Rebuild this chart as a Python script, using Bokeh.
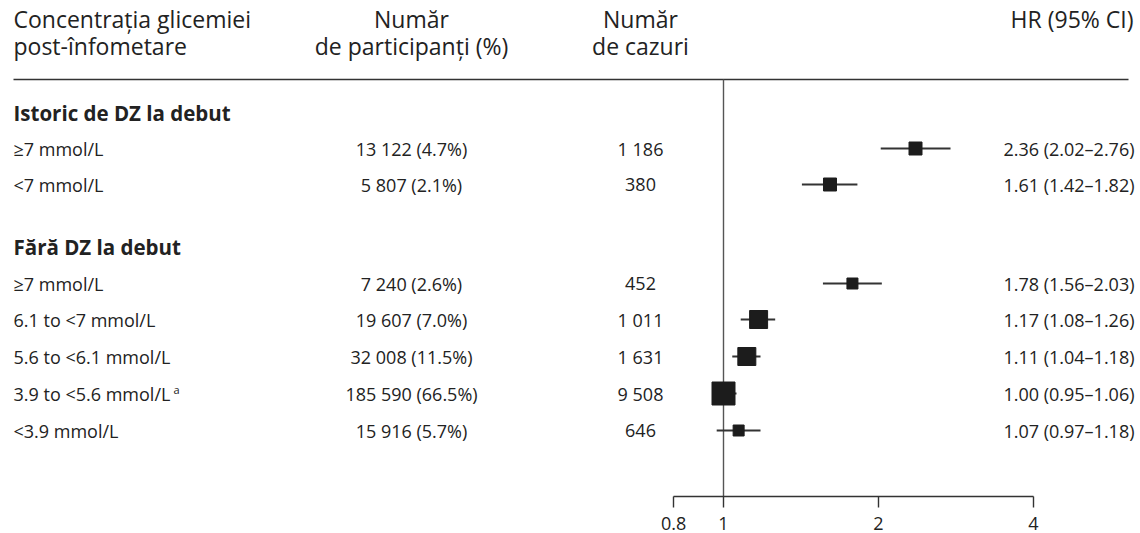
from bokeh.plotting import figure
from bokeh.models import Range1d, LogScale, LinearAxis, FixedTicker, BasicTickFormatter, ColumnDataSource
from bokeh.core.properties import value
from bokeh.embed import file_html
from bokeh.resources import INLINE

# ---------------- data ----------------
group_names = ["Istoric de DZ la debut", "Fără DZ la debut"]
row_labels = ["≥7 mmol/L", "<7 mmol/L", "≥7 mmol/L", "6.1 to <7 mmol/L",
              "5.6 to <6.1 mmol/L", "3.9 to <5.6 mmol/L", "<3.9 mmol/L"]
participants = ["13 122 (4.7%)", "5 807 (2.1%)", "7 240 (2.6%)", "19 607 (7.0%)",
                "32 008 (11.5%)", "185 590 (66.5%)", "15 916 (5.7%)"]
cases = ["1 186", "380", "452", "1 011", "1 631", "9 508", "646"]
hr = [2.36, 1.61, 1.78, 1.17, 1.11, 1.00, 1.07]
hr_lo = [2.02, 1.42, 1.56, 1.08, 1.04, 0.95, 0.97]
hr_hi = [2.76, 1.82, 2.03, 1.26, 1.18, 1.06, 1.18]
axis_ticks = [0.8, 1, 2, 4]

# ---------------- layout / style ----------------
W, H = 1140, 533
axis_img = 496                        # image-y of the HR axis line
row_y = [148, 184, 283, 319, 356, 393, 430]
group_y = [112, 246]
px_per_log2 = 155
one_x = 723                           # image-x of HR = 1
box_px = [13, 13, 11, 18, 18, 23, 11]
TXT = "#222222"
FONT_NAME = "Open Sans"
FONT = value(FONT_NAME)

lo_log2 = -one_x / px_per_log2
hi_log2 = (W - one_x) / px_per_log2

p = figure(width=W, height=H, output_backend="svg", toolbar_location=None,
           x_range=Range1d(0, W), y_range=Range1d(axis_img, 0),
           x_axis_location=None, y_axis_location=None,
           min_border_left=0, min_border_right=0, min_border_top=0,
           min_border_bottom=H - axis_img)
p.outline_line_color = None
p.xgrid.visible = False
p.ygrid.visible = False
p.extra_x_ranges = {"hr": Range1d(2 ** lo_log2, 2 ** hi_log2)}
p.extra_x_scales = {"hr": LogScale()}

# HR axis
ax = LinearAxis(x_range_name="hr", ticker=FixedTicker(ticks=axis_ticks),
                formatter=BasicTickFormatter(), bounds=(min(axis_ticks), max(axis_ticks)))
ax.axis_line_color = "#333333"
ax.axis_line_width = 1.4
ax.major_tick_line_color = "#333333"
ax.major_tick_line_width = 1.4
ax.major_tick_in = 0
ax.major_tick_out = 11
ax.minor_tick_line_color = None
ax.major_label_text_font = FONT_NAME
ax.major_label_text_font_size = "18px"
ax.major_label_text_color = TXT
ax.major_label_standoff = 9
p.add_layout(ax, "below")

# header
hdr = dict(text_font=FONT, text_font_size="23px", text_color=TXT, text_baseline="middle")
p.text(x=[13, 13], y=[18, 45], text=["Concentrația glicemiei", "post-înfometare"], text_align="left", **hdr)
p.text(x=[411, 411], y=[18, 45], text=["Număr", "de participanți (%)"], text_align="center", **hdr)
p.text(x=[640, 640], y=[18, 45], text=["Număr", "de cazuri"], text_align="center", **hdr)
p.text(x=[1133], y=[18], text=["HR (95% CI)"], text_align="right", **hdr)

# header rule
p.segment(x0=[13], x1=[1128], y0=[79], y1=[79], line_color="#333333", line_width=1.5)

# reference line at HR = 1
p.segment(x0=[1], x1=[1], y0=[79], y1=[axis_img], line_color="#555555", line_width=1.4,
          x_range_name="hr")

# group titles
p.text(x=[13] * len(group_y), y=group_y, text=group_names, text_font=FONT, text_font_style="bold",
       text_font_size="20.5px", text_color=TXT, text_baseline="middle", text_align="left")

hr_txt = [f"{a:.2f} ({b:.2f}–{c:.2f})" for a, b, c in zip(hr, hr_lo, hr_hi)]
src = ColumnDataSource(dict(y=row_y, label=row_labels, part=participants, cases=cases,
                            hr=hr, lo=hr_lo, hi=hr_hi, hrt=hr_txt, size=box_px))
row = dict(text_font=FONT, text_font_size="18px", text_color=TXT, text_baseline="middle")
p.text(x=13, y="y", text="label", text_align="left", source=src, **row)
p.text(x=411, y="y", text="part", text_align="center", source=src, **row)
p.text(x=640, y="y", text="cases", text_align="center", source=src, **row)
p.text(x=1134, y="y", text="hrt", text_align="right", source=src, **row)
# superscript on reference category
p.text(x=[173], y=[row_y[5] - 4], text=["a"], text_font=FONT, text_font_size="11px",
       text_color=TXT, text_baseline="middle", text_align="left")

# CI lines and squares
p.segment(x0="lo", x1="hi", y0="y", y1="y", source=src, line_color="#333333", line_width=2,
          x_range_name="hr")
p.scatter(x="hr", y="y", size="size", marker="square", source=src, fill_color="#1c1c1c",
          line_color="#1c1c1c", x_range_name="hr")

open("out.html", "w").write(file_html(p, INLINE))
